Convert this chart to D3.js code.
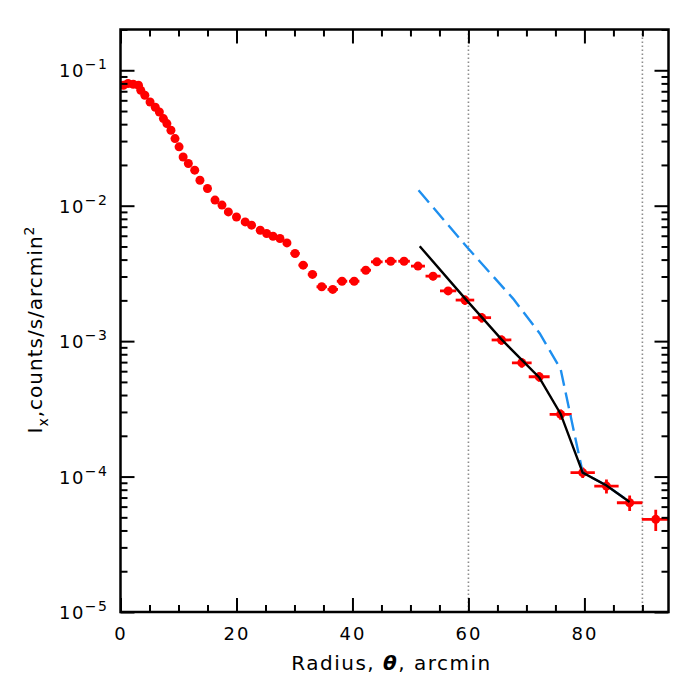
<!DOCTYPE html>
<html>
<head>
<meta charset="utf-8">
<script src="https://cdn.jsdelivr.net/npm/d3@7"></script>
<style>
    body { margin: 0; background: #fff; }
    text { font-family: "DejaVu Sans", sans-serif; fill: #000; }
</style>
</head>
<body>
<div id="chart"></div>
<script>
// surface brightness profile
var radius = [0.5, 1.3, 2.2, 3.1, 3.5, 4.2, 5.1, 6.0, 6.7, 7.4, 8.0, 8.7, 9.4, 10.1, 10.8,
    11.7, 12.8, 13.7, 15.0, 16.3, 17.5, 18.6, 20.0, 21.5, 22.6, 24.1, 25.2, 26.3, 27.5, 28.7,
    30.1, 31.5, 33.1, 34.7, 36.6, 38.2, 40.3, 42.3, 44.2, 46.6, 48.9,
    51.3, 53.9, 56.5, 59.4, 62.3, 65.7, 69.2, 72.2, 75.9, 79.7, 83.8, 87.8, 92.3];
var intensity = [0.0775, 0.0798, 0.0788, 0.0775, 0.0711, 0.0654, 0.0583, 0.0533, 0.0492, 0.0440,
    0.0404, 0.0361, 0.0313, 0.0272, 0.0229, 0.0205, 0.0183, 0.0154, 0.0134, 0.0110, 0.0101,
    0.0090, 0.00826, 0.00759, 0.00718, 0.00659, 0.00623, 0.00595, 0.00573, 0.00531,
    0.00444, 0.00364, 0.00311, 0.00252, 0.00241, 0.00277, 0.00277, 0.00334, 0.00385, 0.00389, 0.00389,
    0.00358, 0.00302, 0.00235, 0.00201, 0.00149, 0.00102, 0.000692, 0.000546, 0.000288,
    0.000107, 8.51e-5, 6.41e-5, 4.83e-5];
var radiusErr = [0.4, 0.4, 0.4, 0.4, 0.4, 0.4, 0.4, 0.4, 0.4, 0.4, 0.4, 0.4, 0.4, 0.4, 0.4,
    0.5, 0.5, 0.5, 0.5, 0.5, 0.5, 0.5, 0.6, 0.6, 0.6, 0.6, 0.6, 0.6, 0.6, 0.6,
    0.8, 0.8, 0.8, 0.9, 0.9, 0.9, 0.9, 0.9, 1.0, 1.0, 1.0,
    1.2, 1.3, 1.4, 1.6, 1.6, 1.7, 1.7, 1.8, 1.9, 2.1, 2.1, 2.2, 2.4];
var intensityErr = [0.002, 0.002, 0.002, 0.002, 0.002, 0.002, 0.0017, 0.0015, 0.0014, 0.0013,
    0.0012, 0.001, 0.0009, 0.0008, 0.0007, 0.0006, 0.0005, 0.00045, 0.0004, 0.00033, 0.0003,
    0.00027, 0.00025, 0.00023, 0.00021, 0.0002, 0.00019, 0.00018, 0.00017, 0.00016,
    0.00013, 0.00011, 0.0001, 0.00008, 0.00008, 0.00009, 0.00009, 0.0001, 0.00012, 0.00012, 0.00012,
    0.00021, 0.00021, 0.00016, 0.00016, 0.00012, 0.00008, 0.000055, 0.000044, 0.000025,
    0.0000096, 0.00001, 0.0000083, 0.0000087];

// best-fit model (black) and alternative model (blue dashed)
var modelRadius = [51.6, 59.4, 65.7, 72.2, 75.9, 79.7, 83.8, 87.8];
var modelValue = [0.00502, 0.00207, 0.00103, 0.00054, 0.00029, 0.000107, 8.6e-5, 6.5e-5];
var altRadius = [51.4, 59.7, 67.7, 72.3, 75.9, 79.7, 83.8, 87.8];
var altValue = [0.0130, 0.00497, 0.00206, 0.00114, 0.00062, 0.000107, 8.6e-5, 6.5e-5];

var markerLines = [60, 90];
var xMajor = [0, 20, 40, 60, 80];
var yMajor = [1e-1, 1e-2, 1e-3, 1e-4, 1e-5];
var yMajorLabels = ["\u22121", "\u22122", "\u22123", "\u22124", "\u22125"];

const WIDTH = 700;
const HEIGHT = 684;
var margin = {top: 29.5, right: 31.5, bottom: 72, left: 120.5};
var innerW = WIDTH - margin.left - margin.right;
var innerH = HEIGHT - margin.top - margin.bottom;

var x = d3.scaleLinear().domain([0, 94.5]).range([0, innerW]);
var y = d3.scaleLog().domain([1e-5, 0.2]).range([innerH, 0]);

var svg = d3.select("#chart").append("svg")
    .attr("width", WIDTH)
    .attr("height", HEIGHT);
svg.append("defs").append("clipPath").attr("id", "clip")
    .append("rect").attr("width", innerW).attr("height", innerH);
var g = svg.append("g")
    .attr("transform", "translate(" + margin.left + "," + margin.top + ")");
var plot = g.append("g").attr("clip-path", "url(#clip)");

// minor ticks
var xMinor = d3.range(0, 95, 5).filter(function(d) { return xMajor.indexOf(d) < 0; });
var yMinor = [];
[1e-5, 1e-4, 1e-3, 1e-2, 1e-1].forEach(function(dec) {
    for (var k = 2; k <= 9; k++) {
	if (dec * k <= 0.2) yMinor.push(dec * k);
    }
});

function styleAxis(sel) {
    sel.select(".domain").remove();
    sel.selectAll(".tick line").attr("stroke", "#000").attr("stroke-width", 2);
}

g.append("g").attr("transform", "translate(0," + innerH + ")")
    .call(d3.axisBottom(x).tickValues(xMajor).tickSize(-14).tickPadding(15).tickFormat(d3.format("d")))
    .call(styleAxis)
    .selectAll("text")
    .attr("font-size", 18)
    .attr("letter-spacing", 2)
    .attr("font-family", "DejaVu Sans");
g.append("g").attr("transform", "translate(0," + innerH + ")")
    .call(d3.axisBottom(x).tickValues(xMinor).tickSize(-7).tickFormat(""))
    .call(styleAxis);
g.append("g")
    .call(d3.axisTop(x).tickValues(xMajor).tickSize(-14).tickFormat(""))
    .call(styleAxis);
g.append("g")
    .call(d3.axisTop(x).tickValues(xMinor).tickSize(-7).tickFormat(""))
    .call(styleAxis);
g.append("g")
    .call(d3.axisLeft(y).tickValues(yMajor).tickSize(-14).tickFormat(""))
    .call(styleAxis);
g.append("g")
    .call(d3.axisLeft(y).tickValues(yMinor).tickSize(-7).tickFormat(""))
    .call(styleAxis);
g.append("g").attr("transform", "translate(" + innerW + ",0)")
    .call(d3.axisRight(y).tickValues(yMajor).tickSize(-14).tickFormat(""))
    .call(styleAxis);
g.append("g").attr("transform", "translate(" + innerW + ",0)")
    .call(d3.axisRight(y).tickValues(yMinor).tickSize(-7).tickFormat(""))
    .call(styleAxis);

// y tick labels as 10^n
yMajor.forEach(function(v, i) {
    var t = g.append("text")
	.attr("x", -12)
	.attr("y", y(v) + 7)
	.attr("text-anchor", "end")
	.attr("letter-spacing", 1.5)
	.attr("font-size", 18);
    t.append("tspan").text("10");
    t.append("tspan").attr("dy", -8).attr("font-size", 14).text(yMajorLabels[i]);
});

// dotted verticals
plot.selectAll(".vline").data(markerLines).enter().append("line")
    .attr("x1", function(d) { return x(d); })
    .attr("x2", function(d) { return x(d); })
    .attr("y1", 0).attr("y2", innerH)
    .attr("stroke", "#8c8c8c")
    .attr("stroke-width", 1.6)
    .attr("stroke-dasharray", "1.6,2.4");

// data with error bars
var pts = radius.map(function(r, i) {
    return {r: r, v: intensity[i], dr: radiusErr[i], dv: intensityErr[i]};
});
var pg = plot.selectAll(".pt").data(pts).enter().append("g");
pg.append("line")
    .attr("x1", function(d) { return x(d.r - d.dr); })
    .attr("x2", function(d) { return x(d.r + d.dr); })
    .attr("y1", function(d) { return y(d.v); })
    .attr("y2", function(d) { return y(d.v); })
    .attr("stroke", "#ff0000").attr("stroke-width", 2.8);
pg.append("line")
    .attr("x1", function(d) { return x(d.r); })
    .attr("x2", function(d) { return x(d.r); })
    .attr("y1", function(d) { return y(d.v - d.dv); })
    .attr("y2", function(d) { return y(d.v + d.dv); })
    .attr("stroke", "#ff0000").attr("stroke-width", 2.8);
pg.append("circle")
    .attr("cx", function(d) { return x(d.r); })
    .attr("cy", function(d) { return y(d.v); })
    .attr("r", 4.5)
    .attr("fill", "#ff0000");

var line = d3.line()
    .x(function(d) { return x(d[0]); })
    .y(function(d) { return y(d[1]); });

plot.append("path")
    .datum(d3.zip(altRadius, altValue))
    .attr("d", line)
    .attr("fill", "none")
    .attr("stroke", "#1e8fef")
    .attr("stroke-width", 2.4)
    .attr("stroke-dasharray", "16,7");

plot.append("path")
    .datum(d3.zip(modelRadius, modelValue))
    .attr("d", line)
    .attr("fill", "none")
    .attr("stroke", "#000")
    .attr("stroke-width", 2.4);

// frame
g.append("rect")
    .attr("width", innerW).attr("height", innerH)
    .attr("fill", "none")
    .attr("stroke", "#000")
    .attr("stroke-width", 2.5);

// axis titles
var xt = g.append("text")
    .attr("x", innerW / 2 - 3)
    .attr("y", innerH + 58)
    .attr("text-anchor", "middle")
    .attr("letter-spacing", 1.5)
    .attr("font-size", 20);
xt.append("tspan").text("Radius, ");
xt.append("tspan").attr("font-weight", "bold").attr("font-style", "italic").text("\u03b8");
xt.append("tspan").text(", arcmin");

var yt = svg.append("text")
    .attr("transform", "translate(42," + (margin.top + 300) + ") rotate(-90)")
    .attr("text-anchor", "middle")
    .attr("letter-spacing", 1)
    .attr("font-size", 20);
yt.append("tspan").text("I");
yt.append("tspan").attr("dy", 6).attr("font-size", 14).text("x");
yt.append("tspan").attr("dy", -6).text(",counts/s/arcmin");
yt.append("tspan").attr("dy", -8).attr("font-size", 14).text("2");
</script>
</body>
</html>
